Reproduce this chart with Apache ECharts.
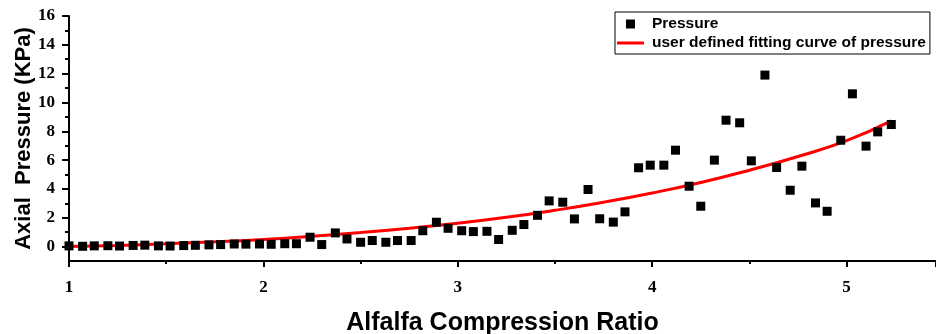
<!DOCTYPE html>
<html>
<head>
<meta charset="utf-8">
<script src="https://cdn.jsdelivr.net/npm/echarts@6/dist/echarts.min.js"></script>
<style>
  html, body { margin: 0; padding: 0; background: #fff; }
  #chart { width: 936px; height: 334px; }
</style>
</head>
<body>
<div id="chart"></div>
<script>
// Compression ratio of each measurement
const compressionRatio = [
  1.00, 1.07, 1.13, 1.20, 1.26, 1.33, 1.39, 1.46, 1.52, 1.59, 1.65,
  1.72, 1.78, 1.85, 1.91, 1.98, 2.04, 2.11, 2.17, 2.24, 2.30, 2.37,
  2.43, 2.50, 2.56, 2.63, 2.69, 2.76, 2.82, 2.89, 2.95, 3.02, 3.08,
  3.15, 3.21, 3.28, 3.34, 3.41, 3.47, 3.54, 3.60, 3.67, 3.73, 3.80,
  3.86, 3.93, 3.99, 4.06, 4.12, 4.19, 4.25, 4.32, 4.38, 4.45, 4.51,
  4.58, 4.64, 4.71, 4.77, 4.84, 4.90, 4.97, 5.03, 5.10, 5.16, 5.23
];
// Measured axial pressure (KPa)
const pressure = [
  0.05, 0.02, 0.05, 0.06, 0.04, 0.08, 0.10, 0.05, 0.04, 0.07, 0.09,
  0.12, 0.14, 0.18, 0.17, 0.18, 0.16, 0.20, 0.20, 0.65, 0.14, 0.95,
  0.53, 0.30, 0.42, 0.30, 0.42, 0.42, 1.10, 1.69, 1.27, 1.10, 1.04,
  1.06, 0.49, 1.13, 1.53, 2.17, 3.17, 3.08, 1.92, 3.96, 1.93, 1.70,
  2.41, 5.47, 5.65, 5.65, 6.69, 4.19, 2.80, 6.00, 8.77, 8.59, 5.95,
  11.90, 5.49, 3.91, 5.58, 3.03, 2.45, 7.38, 10.60, 6.97, 7.96, 8.47
];
// Fitted curve samples
const fitRatio = [1.00, 1.25, 1.50, 1.75, 2.00, 2.25, 2.50, 2.75, 3.00,
                  3.25, 3.50, 3.75, 4.00, 4.25, 4.50, 4.75, 5.00, 5.23];
const fitPressure = [0.00, 0.08, 0.20, 0.33, 0.50, 0.72, 0.98, 1.28, 1.62,
                     2.03, 2.52, 3.08, 3.72, 4.45, 5.30, 6.25, 7.35, 8.72];
// Axis ticks
const yMajorTicks = [0, 2, 4, 6, 8, 10, 12, 14, 16];
const yMinorTicks = [1, 3, 5, 7, 9, 11, 13, 15];

const seriesNames = ['Pressure', 'user defined fitting curve of pressure'];

const scatterData = compressionRatio.map((x, i) => [x, pressure[i]]);
const fitData = fitRatio.map((x, i) => [x, fitPressure[i]]);

const tickFont = { fontFamily: 'Liberation Serif', fontWeight: 'bold', fontSize: 17, color: '#000' };
const tickLine = { color: '#000', width: 2 };

const chart = echarts.init(document.getElementById('chart'), null, { renderer: 'canvas' });
chart.setOption({
  animation: false,
  backgroundColor: '#fff',
  grid: { left: 69, right: 0, top: 16, bottom: 73, containLabel: false, outerBoundsMode: 'none' },
  legend: {
    orient: 'vertical',
    left: 615,
    top: 12,
    padding: [4, 4, 3, 2],
    borderColor: '#000',
    borderWidth: 1,
    itemGap: 3,
    itemWidth: 27,
    itemHeight: 9,
    textStyle: {
      fontFamily: 'Liberation Sans', fontWeight: 'bold', fontSize: 15.5,
      color: '#000', lineHeight: 16, padding: [0, 0, 0, 3]
    },
    data: [
      { name: seriesNames[0], icon: 'path://M0,0M9,0h9v9h-9zM27,9' },
      { name: seriesNames[1], icon: 'path://M0,0M0,3h27v3h-27zM27,9', itemStyle: { color: '#ff0000' } }
    ]
  },
  xAxis: {
    type: 'value',
    min: 1, max: 5.46, interval: 1,
    name: 'Alfalfa Compression Ratio',
    nameLocation: 'middle',
    nameGap: 50,
    nameTextStyle: { fontFamily: 'Liberation Sans', fontWeight: 'bold', fontSize: 25, color: '#000' },
    axisLine: { show: true, onZero: false, lineStyle: tickLine },
    axisTick: { show: true, inside: false, length: 6, lineStyle: tickLine },
    minorTick: { show: true, splitNumber: 2, length: 3, lineStyle: tickLine },
    axisLabel: Object.assign({
      margin: 18,
      showMaxLabel: false,
      formatter: v => (Math.abs(v - Math.round(v)) < 1e-6 ? String(Math.round(v)) : '')
    }, tickFont),
    splitLine: { show: false }
  },
  yAxis: [{
    type: 'value',
    min: -1, max: 16,
    name: 'Axial  Pressure (KPa)',
    nameLocation: 'middle',
    nameGap: 34,
    nameMoveOverlap: false,
    nameRotate: 90,
    nameTextStyle: { fontFamily: 'Liberation Sans', fontWeight: 'bold', fontSize: 22, color: '#000' },
    axisLine: { show: true, onZero: false, lineStyle: tickLine },
    axisTick: { show: true, inside: false, length: 7, customValues: yMajorTicks, lineStyle: tickLine },
    axisLabel: Object.assign({ margin: 14, customValues: yMajorTicks }, tickFont),
    splitLine: { show: false }
  }, {
    type: 'value',
    min: -1, max: 16,
    position: 'left',
    axisLine: { show: false, onZero: false },
    axisTick: { show: true, inside: false, length: 4, customValues: yMinorTicks, lineStyle: tickLine },
    axisLabel: { show: false },
    splitLine: { show: false }
  }],
  series: [{
    name: seriesNames[0],
    type: 'scatter',
    symbol: 'rect',
    symbolSize: 9,
    itemStyle: { color: '#000', opacity: 1 },
    z: 3,
    data: scatterData
  }, {
    name: seriesNames[1],
    type: 'line',
    smooth: true,
    symbol: 'none',
    showSymbol: false,
    lineStyle: { color: '#ff0000', width: 3 },
    itemStyle: { color: '#ff0000' },
    z: 2,
    data: fitData
  }]
});
</script>
</body>
</html>
